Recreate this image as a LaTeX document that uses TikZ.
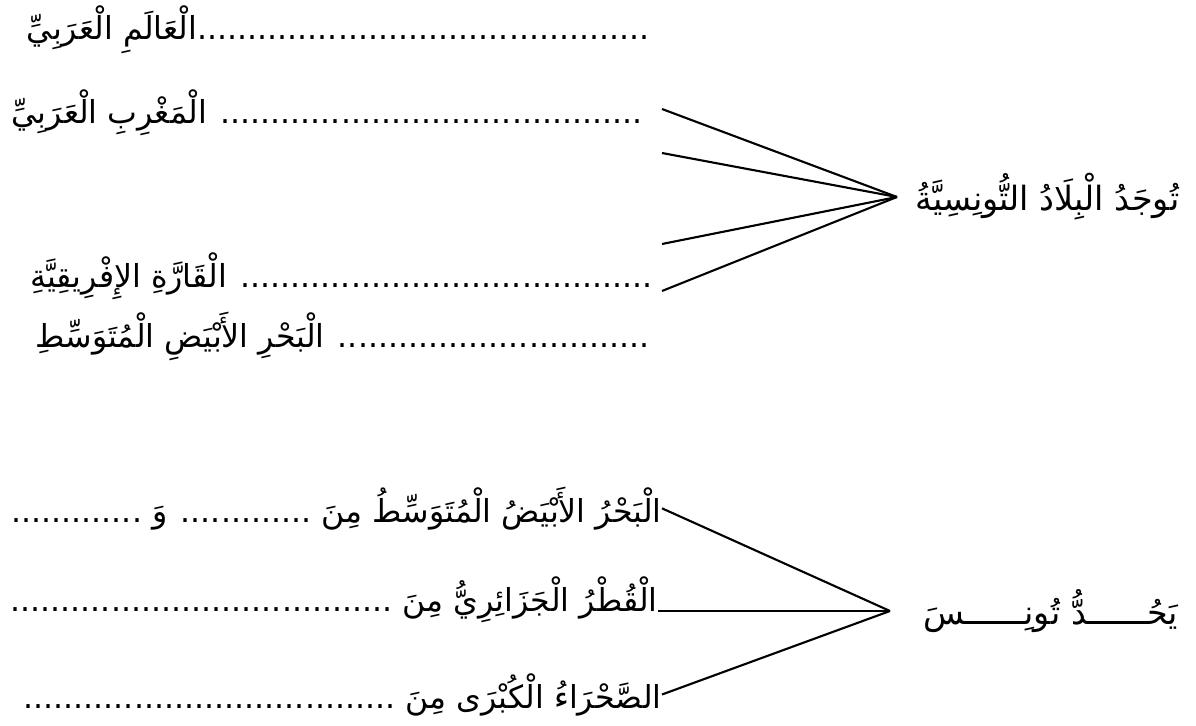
\documentclass[tikz,border=0pt]{standalone}
\usepackage{fontspec}
\usepackage{tikz}
\newfontfamily\arabicfont[Script=Arabic]{DejaVu Sans}
\TeXXeTstate=1
\pgfdeclarelayer{bg}
\pgfsetlayers{bg,main}

\begin{document}
\begin{tikzpicture}[
        row/.style={anchor=base east, inner sep=0pt, font=\arabicfont\fontsize{18}{22}\selectfont},
        hub/.style={anchor=west, inner ysep=0pt, font=\arabicfont\fontsize{19}{23}\selectfont}]
        \useasboundingbox (0,0) rectangle (23.920000cm, -14.520000cm);
        % first exercise
        \node (r1) [row] at (13.000000cm, -0.800000cm) {\beginR\beginL.............................................\endL الْعَالَمِ الْعَرَبِيِّ\endR};
        \node (r2) [row] at (12.860000cm, -2.480000cm) {\beginR\beginL..........................................\endL{} الْمَغْرِبِ الْعَرَبِيِّ\endR};
        \node (r3) [row] at (13.060000cm, -5.740000cm) {\beginR\beginL.........................................\endL{} الْقَارَّةِ الإِفْرِيقِيَّةِ\endR};
        \node (r4) [row] at (13.000000cm, -6.940000cm) {\beginR\beginL...............................\endL{} الْبَحْرِ الأَبْيَضِ الْمُتَوَسِّطِ\endR};
        \node (q1) [hub, inner xsep=0.360000cm] at (17.940000cm, -3.940000cm) {\beginR تُوجَدُ الْبِلَادُ التُّونِسِيَّةُ\endR};
        \coordinate (c1) at (13.240000cm, -2.180000cm);
        \coordinate (c2) at (13.240000cm, -3.060000cm);
        \coordinate (c3) at (13.240000cm, -4.880000cm);
        \coordinate (c4) at (13.240000cm, -5.820000cm);
        % second exercise
        \node (ra) [row] at (13.240000cm, -10.440000cm) {\beginR الْبَحْرُ الأَبْيَضُ الْمُتَوَسِّطُ مِنَ \beginL.............\endL{} وَ \beginL.............\endL\endR};
        \node (rb) [row] at (13.160000cm, -12.220000cm) {\beginR الْقُطْرُ الْجَزَائِرِيُّ مِنَ \beginL......................................\endL\endR};
        \node (rc) [row] at (13.240000cm, -14.160000cm) {\beginR الصَّحْرَاءُ الْكُبْرَى مِنَ \beginL.....................................\endL\endR};
        \node (q2) [hub, inner xsep=0.660000cm] at (17.800000cm, -12.220000cm) {\beginR يَحُــــــدُّ تُونِــــــسَ\endR};
        \begin{pgfonlayer}{bg}
                \draw (c1) edge [very thick] (q1.west);
                \draw (c2) edge [very thick] (q1.west);
                \draw (c3) edge [very thick] (q1.west);
                \draw (c4) edge [very thick] (q1.west);
                \draw (ra.east) edge [very thick] (q2.west);
                \draw (rb.base east) edge [very thick] (q2.west);
                \draw (rc.east) edge [very thick] (q2.west);
        \end{pgfonlayer}
\end{tikzpicture}
\end{document}
